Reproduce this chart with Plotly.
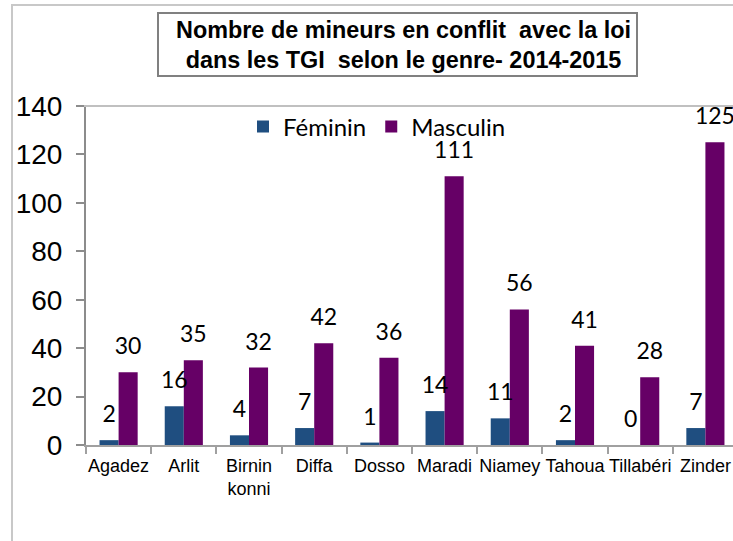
import plotly.graph_objects as go

categories = ["Agadez", "Arlit", "Birnin<br>konni", "Diffa", "Dosso", "Maradi",
              "Niamey", "Tahoua", "Tillabéri", "Zinder"]
feminin = [2, 16, 4, 7, 1, 14, 11, 2, 0, 7]
masculin = [30, 35, 32, 42, 36, 111, 56, 41, 28, 125]
series_names = ["Féminin", "Masculin"]
title_text = "Nombre de mineurs en conflit  avec la loi<br>dans les TGI  selon le genre- 2014-2015"

BLUE = "#1F4E80"
PURPLE = "#660066"
GAP = 0.415

W, H = 733, 541
L, R, T, B = 86, 0, 106, 96
pw = W - L - R
ph = H - T - B

def px_to_paper_x(px):
    return (px - L) / pw

def px_to_paper_y(py):
    return (H - B - py) / ph

fig = go.Figure()
for name, vals, col in [(series_names[0], feminin, BLUE), (series_names[1], masculin, PURPLE)]:
    fig.add_trace(go.Bar(x=categories, y=vals, name=name, marker_color=col,
                         marker_line_width=0))
for name, vals in [(series_names[0], feminin), (series_names[1], masculin)]:
    fig.add_trace(go.Scatter(x=categories, y=vals, mode="markers+text",
                             text=[str(v) for v in vals],
                             textposition="top center", showlegend=False,
                             marker=dict(size=18, opacity=0), cliponaxis=False,
                             textfont=dict(family="Lato", size=23, color="black"),
                             hoverinfo="skip"))

fig.update_layout(
    width=W, height=H,
    margin=dict(l=L, r=R, t=T, b=B, pad=0, autoexpand=False),
    paper_bgcolor="white", plot_bgcolor="white",
    barmode="group", bargap=GAP, bargroupgap=0,
    scattermode="group", scattergap=GAP,
    showlegend=True,
    legend=dict(orientation="h", x=px_to_paper_x(243), y=px_to_paper_y(127),
                xanchor="left", yanchor="middle", itemwidth=30,
                font=dict(family="Lato", size=24, color="black"),
                bgcolor="rgba(0,0,0,0)", traceorder="normal"),
    xaxis=dict(range=[-0.5, -0.5 + pw / 65.2], showline=True, linecolor="#a0a0a0",
               linewidth=2, ticks="outside", tickson="boundaries", ticklen=7,
               tickcolor="#a0a0a0", tickwidth=2, showgrid=False, tickangle=0,
               automargin=False, ticklabelstandoff=3,
               tickfont=dict(family="Liberation Sans", size=18, color="black")),
    yaxis=dict(range=[0, 140], dtick=20, showline=True, linecolor="#8c8c8c",
               linewidth=2, ticks="outside", ticklen=8, tickcolor="#8c8c8c",
               tickwidth=2, showgrid=False, zeroline=False, ticklabelstandoff=8,
               automargin=False,
               tickfont=dict(family="Liberation Sans", size=28, color="black")),
    font=dict(family="Liberation Sans"),
)

shapes = [
    # plot area top border
    dict(type="line", xref="paper", yref="paper", x0=px_to_paper_x(84), x1=1.0,
         y0=1, y1=1, line=dict(color="#c0c0c0", width=2)),
    # outer frame left
    dict(type="line", xref="paper", yref="paper", x0=px_to_paper_x(12), x1=px_to_paper_x(12),
         y0=px_to_paper_y(H), y1=px_to_paper_y(5), line=dict(color="#c8c8c8", width=2)),
    # outer frame top
    dict(type="line", xref="paper", yref="paper", x0=px_to_paper_x(11), x1=1.0,
         y0=px_to_paper_y(5), y1=px_to_paper_y(5), line=dict(color="#c8c8c8", width=2)),
    # title box
    dict(type="rect", xref="paper", yref="paper", x0=px_to_paper_x(158), x1=px_to_paper_x(637),
         y0=px_to_paper_y(76), y1=px_to_paper_y(13), line=dict(color="#808080", width=2),
         fillcolor="white", layer="above"),
]
fig.update_layout(shapes=shapes)

fig.add_annotation(
    text="<b>" + title_text + "</b>", xref="paper", yref="paper",
    x=px_to_paper_x(403), y=px_to_paper_y(45), xanchor="center", yanchor="middle",
    showarrow=False, font=dict(family="Liberation Sans", size=23.4, color="black"),
)

fig.write_html("out.html", config={"displayModeBar": False},
               post_script="document.body.style.margin='0';document.body.style.overflow='hidden';")
